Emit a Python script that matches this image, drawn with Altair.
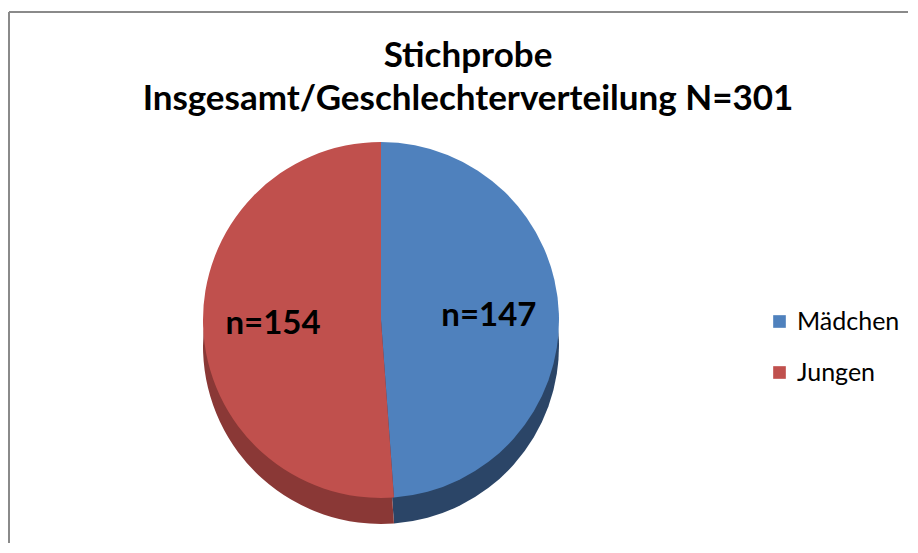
import altair as alt
import pandas as pd

categories = ["Mädchen", "Jungen"]
counts = [147, 154]
top_colors = ["#4F81BD", "#C0504D"]
side_colors = ["#2B4567", "#8A3836"]
order_idx = [0, 1]
title_lines = ["Stichprobe", "Insgesamt/Geschlechterverteilung N=301"]

df = pd.DataFrame({
    "Geschlecht": categories,
    "n": counts,
    "ord": order_idx,
    "side": side_colors,
    "label": [f"n={c}" for c in counts],
})

W, H = 900, 535
CX, CY, R, DEPTH = 373, 312, 178, 26

base = alt.Chart(df).encode(
    theta=alt.Theta("n:Q", stack=True),
    order=alt.Order("ord:Q"),
)

side = base.mark_arc(outerRadius=R).encode(
    x=alt.value(CX), y=alt.value(CY + DEPTH),
    color=alt.Color("side:N", scale=None),
)

top = base.mark_arc(outerRadius=R).encode(
    x=alt.value(CX), y=alt.value(CY),
    color=alt.Color(
        "Geschlecht:N",
        scale=alt.Scale(domain=categories, range=top_colors),
        legend=alt.Legend(
            title=None, orient="none", legendX=759, legendY=301,
            symbolType="square", symbolSize=160, symbolStrokeWidth=0,
            labelFont="Lato", labelFontSize=25, labelColor="black",
            rowPadding=25, labelOffset=5,
        ),
    ),
)

labels = base.mark_text(
    radius=108, font="Lato", fontSize=33, fontWeight="bold", color="black"
).encode(x=alt.value(CX), y=alt.value(CY), text="label:N")

frame_left = alt.Chart(df).mark_rule(color="#8a8a8a", strokeWidth=2).encode(
    x=alt.value(1), y=alt.value(4), y2=alt.value(H)
)
frame_top = alt.Chart(df).mark_rule(color="#8a8a8a", strokeWidth=2).encode(
    x=alt.value(1), x2=alt.value(W), y=alt.value(4)
)

title1 = alt.Chart(pd.DataFrame({"t": [title_lines[0]]})).mark_text(
    font="Lato", fontSize=35, fontWeight="bold", color="black",
    align="center", baseline="alphabetic",
).encode(text="t:N", x=alt.value(460), y=alt.value(59))
title2 = alt.Chart(pd.DataFrame({"t": [title_lines[1]]})).mark_text(
    font="Lato", fontSize=35, fontWeight="bold", color="black",
    align="center", baseline="alphabetic",
).encode(text="t:N", x=alt.value(460), y=alt.value(102))

chart = (
    alt.layer(frame_left, frame_top, side, top, labels, title1, title2)
    .resolve_scale(color="independent")
    .properties(
        width=W, height=H,
        padding={"left": 0, "top": 0, "right": 0, "bottom": 0},
    )
    .configure_view(stroke=None)
)

chart.save("out.html", embed_options={"renderer": "svg", "actions": False})
